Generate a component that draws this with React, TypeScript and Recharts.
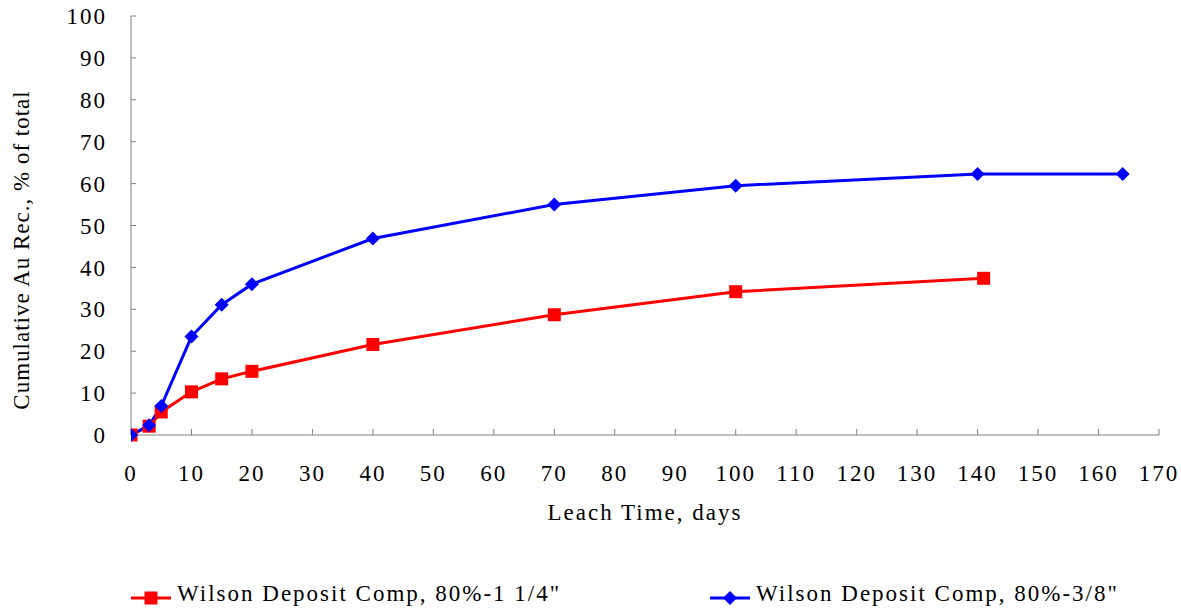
import React from "react";
import { LineChart, Line, XAxis, YAxis, Legend } from "recharts";

const xTicks = [0, 10, 20, 30, 40, 50, 60, 70, 80, 90, 100, 110, 120, 130, 140, 150, 160, 170];
const yTicks = [0, 10, 20, 30, 40, 50, 60, 70, 80, 90, 100];

const coarseDays = [0, 3, 5, 10, 15, 20, 40, 70, 100, 141];
const coarseRec = [0, 2.1, 5.5, 10.3, 13.4, 15.2, 21.6, 28.7, 34.2, 37.4];

const fineDays = [0, 3, 5, 10, 15, 20, 40, 70, 100, 140, 164];
const fineRec = [0, 2.3, 6.9, 23.5, 31.1, 36.0, 46.9, 55.0, 59.5, 62.3, 62.3];

const coarseName = 'Wilson Deposit Comp, 80%-1 1/4"';
const fineName = 'Wilson Deposit Comp, 80%-3/8"';

const coarseData = coarseDays.map((d, i) => ({ day: d, rec: coarseRec[i] }));
const fineData = fineDays.map((d, i) => ({ day: d, rec: fineRec[i] }));

const RED = "#ff0000";
const BLUE = "#0000ff";
const FONT = '"Liberation Serif", "Times New Roman", Times, "DejaVu Serif"';
const FS = 23;
const LS = 2;

const SquareDot = (props: any) => {
  const { cx, cy, index } = props;
  if (cx == null || cy == null) return null;
  return <rect key={`sq-${index}`} x={cx - 6.5} y={cy - 6.5} width={13} height={13} fill={RED} />;
};

const DiamondDot = (props: any) => {
  const { cx, cy, index } = props;
  if (cx == null || cy == null) return null;
  const r = 7;
  return (
    <polygon
      key={`dm-${index}`}
      points={`${cx},${cy - r} ${cx + r},${cy} ${cx},${cy + r} ${cx - r},${cy}`}
      fill={BLUE}
    />
  );
};

const renderLegend = () => (
  <div style={{ position: "relative", width: 1181, height: 44, fontFamily: FONT, fontSize: FS, letterSpacing: LS }}>
    <svg style={{ position: "absolute", left: 131, top: 23 }} width={42} height={20}>
      <line x1={0} y1={10} x2={40} y2={10} stroke={RED} strokeWidth={3} />
      <rect x={13.5} y={3.5} width={13} height={13} fill={RED} />
    </svg>
    <div style={{ position: "absolute", left: 177, top: 16, whiteSpace: "nowrap", color: "#000" }}>{coarseName}</div>
    <svg style={{ position: "absolute", left: 710, top: 23 }} width={42} height={20}>
      <line x1={0} y1={10} x2={40} y2={10} stroke={BLUE} strokeWidth={3} />
      <polygon points="20,3 27,10 20,17 13,10" fill={BLUE} />
    </svg>
    <div style={{ position: "absolute", left: 756, top: 16, whiteSpace: "nowrap", color: "#000" }}>{fineName}</div>
  </div>
);

const XLabel = (props: any) => {
  const vb = props.viewBox || {};
  const cx = vb.x + vb.width / 2;
  return (
    <text x={cx} y={vb.y + 85} textAnchor="middle" fontFamily={FONT} fontSize={FS} letterSpacing={LS} fill="#000">
      Leach Time, days
    </text>
  );
};

const YLabel = () => (
  <text
    x={0}
    y={0}
    transform="translate(29, 250) rotate(-90)"
    textAnchor="middle"
    fontFamily={FONT}
    fontSize={FS}
    letterSpacing={1}
    fill="#000"
  >
    Cumulative Au Rec., % of total
  </text>
);

export default function App() {
  return (
    <div style={{ position: "absolute", left: 0, top: 0, width: 1181, height: 609, background: "#fff" }}>
      <LineChart width={1181} height={609} margin={{ top: 16, right: 22, bottom: 0, left: 0 }}>
        <XAxis
          dataKey="day"
          type="number"
          domain={[0, 170]}
          ticks={xTicks}
          interval={0}
          height={174}
          stroke="#808080"
          tickSize={-6}
          tickMargin={36}
          tick={{ fill: "#000", fontFamily: FONT, fontSize: FS, letterSpacing: LS }}
          label={<XLabel />}
          allowDataOverflow
        />
        <XAxis
          xAxisId="top"
          orientation="top"
          type="number"
          domain={[0, 170]}
          height={0}
          tick={false}
          tickLine={false}
          stroke="#000"
        />
        <YAxis
          type="number"
          domain={[0, 100]}
          ticks={yTicks}
          interval={0}
          width={131}
          stroke="#808080"
          tickSize={-5}
          tickMargin={29}
          tick={{ fill: "#000", fontFamily: FONT, fontSize: FS, letterSpacing: LS }}
          label={<YLabel />}
        />
        <YAxis
          yAxisId="right"
          orientation="right"
          type="number"
          domain={[0, 100]}
          width={0}
          tick={false}
          tickLine={false}
          stroke="#808080"
        />
        <Legend
          layout="horizontal"
          verticalAlign="middle"
          align="center"
          wrapperStyle={{ position: "absolute", left: 0, top: 565, width: 1181, height: 44 }}
          content={renderLegend}
        />
        <Line
          data={coarseData}
          dataKey="rec"
          name={coarseName}
          stroke={RED}
          strokeWidth={3}
          dot={<SquareDot />}
          activeDot={false}
          isAnimationActive={false}
        />
        <Line
          data={fineData}
          dataKey="rec"
          name={fineName}
          stroke={BLUE}
          strokeWidth={3}
          dot={<DiamondDot />}
          activeDot={false}
          isAnimationActive={false}
        />
      </LineChart>
    </div>
  );
}
